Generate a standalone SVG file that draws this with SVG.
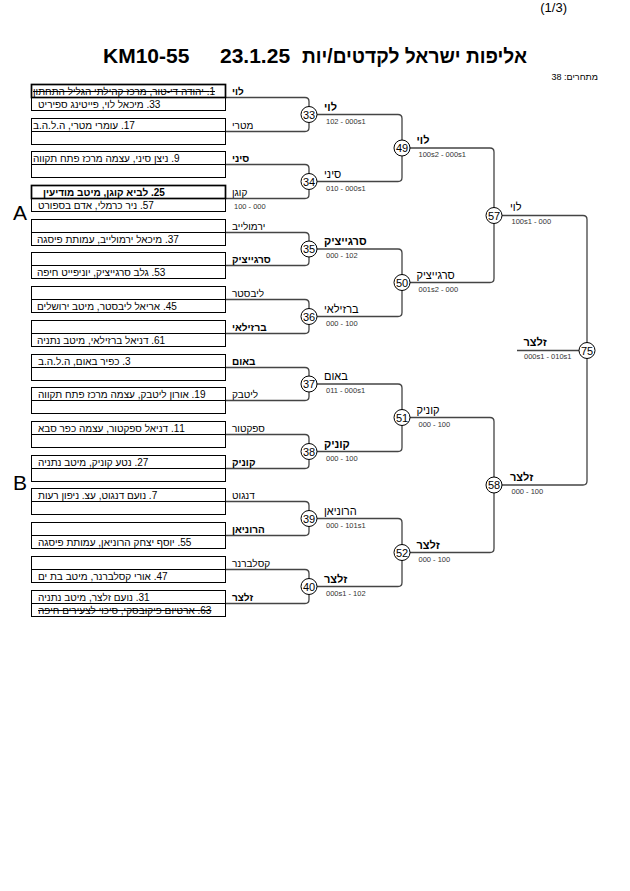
<svg xmlns="http://www.w3.org/2000/svg" width="630" height="891" viewBox="0 0 630 891">
<style>
text{font-family:"Liberation Sans","DejaVu Sans",Arial,sans-serif;fill:#000}
.he{direction:rtl;text-anchor:end}
.bt{font-size:10px}
.n1{font-size:10px}
.n2{font-size:11px}
.b{font-weight:bold}
.sc{font-size:7.5px;fill:#333;text-anchor:start}
.box{fill:#fff;stroke:#000;stroke-width:1}
.thick{fill:none;stroke:#000;stroke-width:1.7}
.con{fill:none;stroke:#444;stroke-width:1.3}
.cir{fill:#fff;stroke:#000;stroke-width:1}
.cn{font-size:11px;text-anchor:middle}
.st{text-decoration:line-through}
</style>
<rect width="630" height="891" fill="#fff"/>
<g id="header">
<text x="567" y="12" style="font-size:13px;text-anchor:end">(1/3)</text>
<text x="103" y="63" class="b" style="font-size:21px">KM10-55</text>
<text x="220" y="63" class="b" style="font-size:21px">23.1.25</text>
<text x="302" y="63" class="b" style="font-size:20px" textLength="225" lengthAdjust="spacingAndGlyphs" direction="rtl" text-anchor="end">אליפות ישראל לקדטים/יות</text>
<text x="598" y="80" style="font-size:9px;direction:rtl;text-anchor:start">מתחרים: 38</text>
<text x="13" y="220" style="font-size:21px">A</text>
<text x="13" y="490" style="font-size:21px">B</text>
</g>
<g id="connectors">
<path class="con" d="M225.5,97.5H305Q309,97.5 309,101.5V127.5Q309,131.5 305,131.5H225.5"/>
<path class="con" d="M225.5,164.5H305Q309,164.5 309,168.5V194.5Q309,198.5 305,198.5H225.5"/>
<path class="con" d="M225.5,232.5H305Q309,232.5 309,236.5V261.5Q309,265.5 305,265.5H225.5"/>
<path class="con" d="M225.5,299.5H305Q309,299.5 309,303.5V329.5Q309,333.5 305,333.5H225.5"/>
<path class="con" d="M225.5,367.5H305Q309,367.5 309,371.5V396.5Q309,400.5 305,400.5H225.5"/>
<path class="con" d="M225.5,434.5H305Q309,434.5 309,438.5V464.5Q309,468.5 305,468.5H225.5"/>
<path class="con" d="M225.5,501.5H305Q309,501.5 309,505.5V531.5Q309,535.5 305,535.5H225.5"/>
<path class="con" d="M225.5,569.5H305Q309,569.5 309,573.5V599.5Q309,603.5 305,603.5H225.5"/>
<path class="con" d="M309,114.5H398Q402,114.5 402,118.5V177.5Q402,181.5 398,181.5H309"/>
<path class="con" d="M309,249H398Q402,249 402,253V312.5Q402,316.5 398,316.5H309"/>
<path class="con" d="M309,384H398Q402,384 402,388V447.5Q402,451.5 398,451.5H309"/>
<path class="con" d="M309,518.5H398Q402,518.5 402,522.5V582.5Q402,586.5 398,586.5H309"/>
<path class="con" d="M402,148H490Q494,148 494,152V278.5Q494,282.5 490,282.5H402"/>
<path class="con" d="M402,417.5H490Q494,417.5 494,421.5V548.5Q494,552.5 490,552.5H402"/>
<path class="con" d="M494,215.5H583Q587,215.5 587,219.5V481Q587,485 583,485H494"/>
<path class="con" d="M517,350.5H587"/>
</g>
<g id="box-01"><rect class="box" x="31.5" y="84.5" width="194" height="26"/><line x1="31.5" y1="97.5" x2="225.5" y2="97.5" stroke="#000"/><rect class="thick" x="31.5" y="84.5" width="194" height="13"/>
<text class="he bt st" x="33" y="94.5">1. יהודה די-טור, מרכז קהילתי הגליל התחתון</text>
<text class="he bt" x="38" y="107.5">33. מיכאל לוי, פייטינג ספיריט</text>
<text class="he n1 b" x="232" y="94.5">לוי</text></g>
<g id="box-02"><rect class="box" x="31.5" y="118.5" width="194" height="26"/><line x1="31.5" y1="131.5" x2="225.5" y2="131.5" stroke="#000"/>
<text class="he bt" x="33" y="128.5">17. עומרי מטרי, ה.ל.ה.ב</text>
<text class="he n1" x="232" y="128.5">מטרי</text></g>
<g id="box-03"><rect class="box" x="31.5" y="151.5" width="194" height="26"/><line x1="31.5" y1="164.5" x2="225.5" y2="164.5" stroke="#000"/>
<text class="he bt" x="33" y="161.5">9. ניצן סיני, עצמה מרכז פתח תקווה</text>
<text class="he n1 b" x="232" y="161.5">סיני</text></g>
<g id="box-04"><rect class="box" x="31.5" y="185.5" width="194" height="26"/><line x1="31.5" y1="198.5" x2="225.5" y2="198.5" stroke="#000"/><rect class="thick" x="31.5" y="185.5" width="194" height="13"/>
<text class="he bt b" x="43" y="195.5">25. לביא קוגן, מיטב מודיעין</text>
<text class="he bt" x="38" y="208.5">57. ניר כרמלי, אדם בספורט</text>
<text class="he n1" x="232" y="195.5">קוגן</text>
<text class="sc" x="234" y="208.5">100 - 000</text></g>
<g id="box-05"><rect class="box" x="31.5" y="219.5" width="194" height="26"/><line x1="31.5" y1="232.5" x2="225.5" y2="232.5" stroke="#000"/>
<text class="he bt" x="37" y="242.5">37. מיכאל ירמולייב, עמותת פיסגה</text>
<text class="he n1" x="232" y="229.5">ירמולייב</text></g>
<g id="box-06"><rect class="box" x="31.5" y="252.5" width="194" height="26"/><line x1="31.5" y1="265.5" x2="225.5" y2="265.5" stroke="#000"/>
<text class="he bt" x="37" y="275.5">53. גלב סרגייציק, יוניפייט חיפה</text>
<text class="he n1 b" x="232" y="262.5">סרגייציק</text></g>
<g id="box-07"><rect class="box" x="31.5" y="286.5" width="194" height="26"/><line x1="31.5" y1="299.5" x2="225.5" y2="299.5" stroke="#000"/>
<text class="he bt" x="37" y="309.5">45. אריאל ליבסטר, מיטב ירושלים</text>
<text class="he n1" x="232" y="296.5">ליבסטר</text></g>
<g id="box-08"><rect class="box" x="31.5" y="320.5" width="194" height="26"/><line x1="31.5" y1="333.5" x2="225.5" y2="333.5" stroke="#000"/>
<text class="he bt" x="37" y="343.5">61. דניאל ברזילאי, מיטב נתניה</text>
<text class="he n1 b" x="232" y="330.5">ברזילאי</text></g>
<g id="box-09"><rect class="box" x="31.5" y="354.5" width="194" height="26"/><line x1="31.5" y1="367.5" x2="225.5" y2="367.5" stroke="#000"/>
<text class="he bt" x="38" y="364.5">3. כפיר באום, ה.ל.ה.ב</text>
<text class="he n1 b" x="232" y="364.5">באום</text></g>
<g id="box-10"><rect class="box" x="31.5" y="387.5" width="194" height="26"/><line x1="31.5" y1="400.5" x2="225.5" y2="400.5" stroke="#000"/>
<text class="he bt" x="38" y="397.5">19. אורון ליטבק, עצמה מרכז פתח תקווה</text>
<text class="he n1" x="232" y="397.5">ליטבק</text></g>
<g id="box-11"><rect class="box" x="31.5" y="421.5" width="194" height="26"/><line x1="31.5" y1="434.5" x2="225.5" y2="434.5" stroke="#000"/>
<text class="he bt" x="38" y="431.5">11. דניאל ספקטור, עצמה כפר סבא</text>
<text class="he n1" x="232" y="431.5">ספקטור</text></g>
<g id="box-12"><rect class="box" x="31.5" y="455.5" width="194" height="26"/><line x1="31.5" y1="468.5" x2="225.5" y2="468.5" stroke="#000"/>
<text class="he bt" x="38" y="465.5">27. נטע קוניק, מיטב נתניה</text>
<text class="he n1 b" x="232" y="465.5">קוניק</text></g>
<g id="box-13"><rect class="box" x="31.5" y="488.5" width="194" height="26"/><line x1="31.5" y1="501.5" x2="225.5" y2="501.5" stroke="#000"/>
<text class="he bt" x="38" y="498.5">7. נועם דנגוט, עצ. ניפון רעות</text>
<text class="he n1" x="232" y="498.5">דנגוט</text></g>
<g id="box-14"><rect class="box" x="31.5" y="522.5" width="194" height="26"/><line x1="31.5" y1="535.5" x2="225.5" y2="535.5" stroke="#000"/>
<text class="he bt" x="38" y="545.5">55. יוסף יצחק הרוניאן, עמותת פיסגה</text>
<text class="he n1 b" x="232" y="532.5">הרוניאן</text></g>
<g id="box-15"><rect class="box" x="31.5" y="556.5" width="194" height="26"/><line x1="31.5" y1="569.5" x2="225.5" y2="569.5" stroke="#000"/>
<text class="he bt" x="38" y="579.5">47. אורי קסלברנר, מיטב בת ים</text>
<text class="he n1" x="232" y="566.5">קסלברנר</text></g>
<g id="box-16"><rect class="box" x="31.5" y="590.5" width="194" height="26"/><line x1="31.5" y1="603.5" x2="225.5" y2="603.5" stroke="#000"/>
<text class="he bt" x="38" y="600.5">31. נועם זלצר, מיטב נתניה</text>
<text class="he bt st" x="38" y="613.5">63. ארטיום פיקובסקי, סיכוי לצעירים חיפה</text>
<text class="he n1 b" x="232" y="600.5">זלצר</text></g>
<g id="match-33"><circle class="cir" cx="309" cy="114.5" r="8"/><text class="cn" x="309" y="118.5">33</text><text class="he n2 b" x="324" y="110.5">לוי</text><text class="sc" x="326" y="123.5">102 - 000s1</text></g>
<g id="match-34"><circle class="cir" cx="309" cy="181.5" r="8"/><text class="cn" x="309" y="185.5">34</text><text class="he n2" x="324" y="177.5">סיני</text><text class="sc" x="326" y="190.5">010 - 000s1</text></g>
<g id="match-35"><circle class="cir" cx="309" cy="249" r="8"/><text class="cn" x="309" y="253">35</text><text class="he n2 b" x="324" y="245">סרגייציק</text><text class="sc" x="326" y="258">000 - 102</text></g>
<g id="match-36"><circle class="cir" cx="309" cy="316.5" r="8"/><text class="cn" x="309" y="320.5">36</text><text class="he n2" x="324" y="312.5">ברזילאי</text><text class="sc" x="326" y="325.5">000 - 100</text></g>
<g id="match-37"><circle class="cir" cx="309" cy="384" r="8"/><text class="cn" x="309" y="388">37</text><text class="he n2" x="324" y="380">באום</text><text class="sc" x="326" y="393">011 - 000s1</text></g>
<g id="match-38"><circle class="cir" cx="309" cy="451.5" r="8"/><text class="cn" x="309" y="455.5">38</text><text class="he n2 b" x="324" y="447.5">קוניק</text><text class="sc" x="326" y="460.5">000 - 100</text></g>
<g id="match-39"><circle class="cir" cx="309" cy="518.5" r="8"/><text class="cn" x="309" y="522.5">39</text><text class="he n2" x="324" y="514.5">הרוניאן</text><text class="sc" x="326" y="527.5">000 - 101s1</text></g>
<g id="match-40"><circle class="cir" cx="309" cy="586.5" r="8"/><text class="cn" x="309" y="590.5">40</text><text class="he n2 b" x="324" y="582.5">זלצר</text><text class="sc" x="326" y="595.5">000s1 - 102</text></g>
<g id="match-49"><circle class="cir" cx="402" cy="148" r="8"/><text class="cn" x="402" y="152">49</text><text class="he n2 b" x="416.5" y="144">לוי</text><text class="sc" x="418.5" y="157">100s2 - 000s1</text></g>
<g id="match-50"><circle class="cir" cx="402" cy="282.5" r="8"/><text class="cn" x="402" y="286.5">50</text><text class="he n2" x="416.5" y="278.5">סרגייציק</text><text class="sc" x="418.5" y="291.5">001s2 - 000</text></g>
<g id="match-51"><circle class="cir" cx="402" cy="417.5" r="8"/><text class="cn" x="402" y="421.5">51</text><text class="he n2" x="416.5" y="413.5">קוניק</text><text class="sc" x="418.5" y="426.5">000 - 100</text></g>
<g id="match-52"><circle class="cir" cx="402" cy="552.5" r="8"/><text class="cn" x="402" y="556.5">52</text><text class="he n2 b" x="416.5" y="548.5">זלצר</text><text class="sc" x="418.5" y="561.5">000 - 100</text></g>
<g id="match-57"><circle class="cir" cx="494" cy="215.5" r="8"/><text class="cn" x="494" y="219.5">57</text><text class="he n2" x="510" y="211">לוי</text><text class="sc" x="511.5" y="224">100s1 - 000</text></g>
<g id="match-58"><circle class="cir" cx="494" cy="485" r="8"/><text class="cn" x="494" y="489">58</text><text class="he n2 b" x="510" y="480.5">זלצר</text><text class="sc" x="511.5" y="494">000 - 100</text></g>
<g id="match-75"><circle class="cir" cx="587" cy="350.5" r="8"/><text class="cn" x="587" y="354.5">75</text><text class="he n2 b" x="523.5" y="346">זלצר</text><text class="sc" x="524" y="359">000s1 - 010s1</text></g>
</svg>
